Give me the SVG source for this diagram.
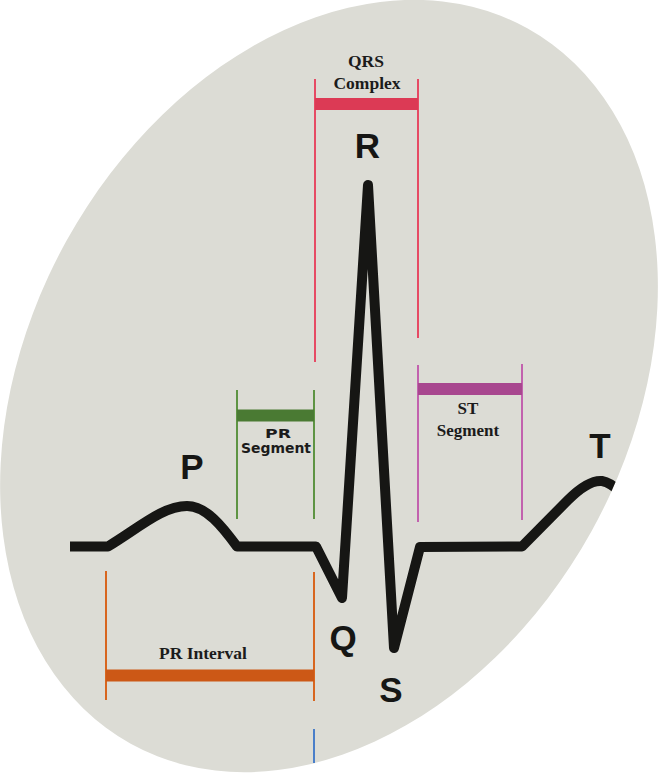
<svg xmlns="http://www.w3.org/2000/svg" width="658" height="773" viewBox="0 0 658 773">
<style>
.serif{font-family:"Liberation Serif","Times New Roman",serif;font-weight:bold;fill:#1b1b1b;text-anchor:middle}
.wave{font-family:"Liberation Sans",Arial,sans-serif;font-weight:bold;font-size:35px;fill:#161614;text-anchor:middle}
.dv{font-family:"DejaVu Sans",Verdana,sans-serif;font-weight:bold;fill:#1b1b1b;text-anchor:middle}
.thin{stroke-width:2;fill:none}
.bar{stroke-width:12;fill:none}
</style>
<defs>
<clipPath id="blob"><ellipse cx="329" cy="386" rx="409" ry="300" transform="rotate(-61 329 386)"/></clipPath>
</defs>
<rect width="658" height="773" fill="#ffffff"/>
<g id="background">
<ellipse cx="329" cy="386" rx="409" ry="300" transform="rotate(-61 329 386)" fill="#dcdcd5"/>
</g>
<g id="connectors">
<g id="qrs-bracket">
<line class="thin" x1="315" y1="79" x2="315" y2="362" stroke="#e64a64"/>
<line class="thin" x1="418" y1="79" x2="418" y2="338" stroke="#e64a64"/>
<line class="bar" x1="315" y1="104" x2="418" y2="104" stroke="#dc3a55"/>
</g>
<g id="pr-segment-bracket">
<line class="thin" x1="237" y1="390" x2="237" y2="519" stroke="#5e9443"/>
<line class="thin" x1="314" y1="390" x2="314" y2="519" stroke="#5e9443"/>
<line class="bar" x1="237" y1="415.5" x2="314" y2="415.5" stroke="#4a7a33"/>
</g>
<g id="st-segment-bracket">
<line class="thin" x1="418" y1="365" x2="418" y2="522" stroke="#c262ae"/>
<line class="thin" x1="522" y1="364" x2="522" y2="520" stroke="#c262ae"/>
<line class="bar" x1="418" y1="389" x2="522" y2="389" stroke="#a8478f"/>
</g>
<g id="pr-interval-bracket">
<line class="thin" x1="106" y1="571" x2="106" y2="700" stroke="#d8661f"/>
<line class="thin" x1="314" y1="572" x2="314" y2="701" stroke="#d8661f"/>
<line class="bar" x1="106" y1="675.5" x2="314" y2="675.5" stroke="#cc5816"/>
</g>
<line id="marker" class="thin" x1="314" y1="729" x2="314" y2="763" stroke="#4a7fc9"/>
</g>
<g id="ecg-trace" clip-path="url(#blob)">
<path d="M70,546.5 L108,546.5 C140,527 163,506 187,506 C206,506 222,526 237,546.5 L316,546.5 L342,598 L368,185 L394,648 L420,547 L522,546.5 L568,500 C580,488 592,480 602,481 C608,482 613,485 620,492" fill="none" stroke="#161614" stroke-width="10" stroke-linejoin="round" stroke-linecap="butt"/>
</g>
<g id="label-qrs">
<text class="serif" x="366" y="67" font-size="17.5">QRS</text>
<text class="serif" x="367" y="89" font-size="17.5">Complex</text>
</g>
<g id="label-pr-segment">
<text class="dv" x="278" y="437.5" font-size="12" textLength="26" lengthAdjust="spacingAndGlyphs">PR</text>
<text class="dv" x="276" y="452.7" font-size="13.5" textLength="70" lengthAdjust="spacingAndGlyphs">Segment</text>
</g>
<g id="label-st-segment">
<text class="serif" x="468" y="414" font-size="17">ST</text>
<text class="serif" x="468" y="436" font-size="17">Segment</text>
</g>
<g id="label-pr-interval">
<text class="serif" x="203" y="659" font-size="17.5">PR Interval</text>
</g>
<g id="node-P"><text class="wave" x="192" y="479">P</text></g>
<g id="node-Q"><text class="wave" x="343" y="650">Q</text></g>
<g id="node-R"><text class="wave" x="367.5" y="158">R</text></g>
<g id="node-S"><text class="wave" x="391" y="702">S</text></g>
<g id="node-T"><text class="wave" x="600" y="458">T</text></g>
</svg>
